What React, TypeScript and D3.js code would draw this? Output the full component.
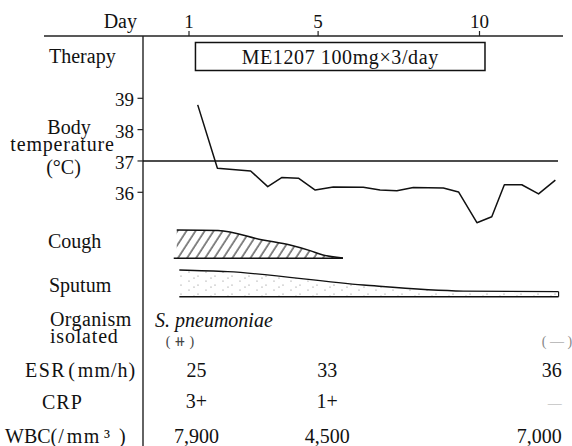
import React, { useEffect, useRef } from 'react';
import * as d3 from 'd3';

// day axis + therapy
const dayTicks = [1, 5, 10];
const therapyRange = [1.2, 10.17];
const therapyLabel = 'ME1207 100mg×3/day';

// body temperature (twice a day)
const tempTicks = [36, 37, 38, 39];
const tempDays = [1.27, 1.88, 2.91, 3.44, 3.87, 4.39, 4.91, 5.47, 6.4, 6.92, 7.44, 7.95, 8.88, 9.35, 9.92, 10.38, 10.77, 11.31, 11.83, 12.35];
const tempValues = [38.79, 36.77, 36.68, 36.18, 36.47, 36.45, 36.07, 36.17, 36.16, 36.07, 36.05, 36.15, 36.14, 36.01, 35.03, 35.22, 36.24, 36.24, 35.95, 36.39];

// symptom severity (0-3)
const coughDays = [0.62, 1.9, 3.29, 4.13, 4.75, 5.15, 5.77];
const coughValues = [3.0, 2.95, 1.94, 1.41, 0.81, 0.35, 0.03];
const sputumDays = [0.7, 2.2, 6.4, 9.5, 12.45];
const sputumValues = [2.83, 2.65, 1.24, 0.6, 0.53];

// lab table
const organismName = 'S. pneumoniae';
const cultureDays = [0.72, 12.4];
const cultureResults = ['( ⧺ )', '( — )'];
const labDays = [1.23, 5.28, 12.55];
const esrValues = ['25', '33', '36'];
const crpValues = ['3+', '1+', '—'];
const wbcValues = ['7,900', '4,500', '7,000'];

const W = 572;
const H = 446;
const FONT = "'Liberation Serif', 'DejaVu Serif', serif";

const App = () => {
  const svgRef = useRef<SVGSVGElement>(null);

  useEffect(() => {
    const svg = d3.select(svgRef.current);
    svg.selectAll('*').remove();

    const x = d3.scaleLinear().domain([1, 10]).range([189, 479.5]);
    const yT = d3.scaleLinear().domain([36, 39]).range([192.3, 98.3]);
    const sev = d3.scaleLinear().domain([0, 3]).range([0, 28.3]);
    const axisX = 143;

    const defs = svg.append('defs');
    const hatch = defs.append('pattern')
      .attr('id', 'hatch')
      .attr('patternUnits', 'userSpaceOnUse')
      .attr('width', 7.6)
      .attr('height', 40)
      .attr('patternTransform', 'rotate(33)');
    hatch.append('line')
      .attr('x1', 1).attr('y1', 0).attr('x2', 1).attr('y2', 40)
      .attr('stroke', '#111').attr('stroke-width', 1);

    const dots = defs.append('pattern')
      .attr('id', 'dots')
      .attr('patternUnits', 'userSpaceOnUse')
      .attr('width', 17)
      .attr('height', 9);
    [[2, 2], [11, 6], [7, 8]].forEach(([cx, cy]) => {
      dots.append('circle').attr('cx', cx).attr('cy', cy).attr('r', 0.6).attr('fill', '#777');
    });

    const text = (s: string, tx: number, ty: number, anchor = 'start', size = 20) =>
      svg.append('text')
        .attr('x', tx)
        .attr('y', ty)
        .attr('text-anchor', anchor)
        .style('font-family', FONT)
        .style('font-size', `${size}px`)
        .attr('fill', '#111')
        .text(s);

    // label with full-width style brackets: [text, dx, letter-spacing]
    const unitLabel = (parts: [string, number, number][], tx: number, ty: number) => {
      const t = svg.append('text')
        .attr('x', tx)
        .attr('y', ty)
        .style('font-family', FONT)
        .style('font-size', '20px')
        .attr('fill', '#111');
      parts.forEach(([s, dx, ls]) =>
        t.append('tspan').attr('dx', dx).attr('letter-spacing', ls).text(s));
      return t;
    };

    // frame
    svg.append('line')
      .attr('x1', 44).attr('x2', 563).attr('y1', 36).attr('y2', 36)
      .attr('stroke', '#222').attr('stroke-width', 1.4);
    svg.append('line')
      .attr('x1', axisX).attr('x2', axisX).attr('y1', 36).attr('y2', H)
      .attr('stroke', '#222').attr('stroke-width', 1.4);

    // day ticks
    text('Day', 137, 28, 'end');
    dayTicks.forEach(d => {
      svg.append('line')
        .attr('x1', x(d)).attr('x2', x(d)).attr('y1', 31).attr('y2', 36)
        .attr('stroke', '#222').attr('stroke-width', 1.2);
      text(String(d), x(d), 28, 'middle', 19);
    });

    // therapy
    text('Therapy', 49, 63);
    svg.append('rect')
      .attr('x', x(therapyRange[0]))
      .attr('y', 42.5)
      .attr('width', x(therapyRange[1]) - x(therapyRange[0]))
      .attr('height', 28)
      .attr('fill', 'none')
      .attr('stroke', '#111')
      .attr('stroke-width', 1.5);
    text(therapyLabel, (x(therapyRange[0]) + x(therapyRange[1])) / 2, 64, 'middle')
      .attr('letter-spacing', 0.6);

    // body temperature
    text('Body', 69, 134, 'middle');
    text('temperature', 62.5, 151, 'middle').attr('letter-spacing', 0.8);
    text('(°C)', 63.5, 174, 'middle');
    tempTicks.forEach(t => {
      svg.append('line')
        .attr('x1', 137.5).attr('x2', axisX).attr('y1', yT(t)).attr('y2', yT(t))
        .attr('stroke', '#222').attr('stroke-width', 1.2);
      text(String(t), 134, yT(t) + 8, 'end', 19);
    });
    svg.append('line')
      .attr('x1', axisX).attr('x2', 558).attr('y1', yT(37)).attr('y2', yT(37))
      .attr('stroke', '#111').attr('stroke-width', 1.5);

    const tempData = tempDays.map((d, i) => [d, tempValues[i]] as [number, number]);
    svg.append('path')
      .datum(tempData)
      .attr('fill', 'none')
      .attr('stroke', '#111')
      .attr('stroke-width', 1.5)
      .attr('stroke-linejoin', 'round')
      .attr('d', d3.line<[number, number]>().x(d => x(d[0])).y(d => yT(d[1])));

    // cough
    const coughBase = 258.3;
    const coughData = coughDays.map((d, i) => [d, coughValues[i]] as [number, number]);
    text('Cough', 48, 248);
    svg.append('path')
      .datum(coughData)
      .attr('fill', 'url(#hatch)')
      .attr('d', d3.area<[number, number]>()
        .curve(d3.curveMonotoneX)
        .x(d => x(d[0]))
        .y0(coughBase)
        .y1(d => coughBase - sev(d[1])));
    svg.append('path')
      .datum(coughData)
      .attr('fill', 'none')
      .attr('stroke', '#111')
      .attr('stroke-width', 1.5)
      .attr('d', d3.line<[number, number]>()
        .curve(d3.curveMonotoneX)
        .x(d => x(d[0]))
        .y(d => coughBase - sev(d[1])));
    svg.append('line')
      .attr('x1', x(coughDays[0]) - 3).attr('x2', x(coughDays[coughDays.length - 1]))
      .attr('y1', coughBase).attr('y2', coughBase)
      .attr('stroke', '#111').attr('stroke-width', 1.5);

    // sputum
    const sputumBase = 296.7;
    const sputumData = sputumDays.map((d, i) => [d, sputumValues[i]] as [number, number]);
    text('Sputum', 49, 292);
    svg.append('path')
      .datum(sputumData)
      .attr('fill', 'url(#dots)')
      .attr('d', d3.area<[number, number]>()
        .curve(d3.curveMonotoneX)
        .x(d => x(d[0]))
        .y0(sputumBase)
        .y1(d => sputumBase - sev(d[1])));
    svg.append('path')
      .datum(sputumData)
      .attr('fill', 'none')
      .attr('stroke', '#111')
      .attr('stroke-width', 1.3)
      .attr('d', d3.line<[number, number]>()
        .curve(d3.curveMonotoneX)
        .x(d => x(d[0]))
        .y(d => sputumBase - sev(d[1])));
    const sEnd = sputumData[sputumData.length - 1];
    svg.append('line')
      .attr('x1', x(sEnd[0])).attr('x2', x(sEnd[0]))
      .attr('y1', sputumBase - sev(sEnd[1])).attr('y2', sputumBase)
      .attr('stroke', '#111').attr('stroke-width', 1.2);
    svg.append('line')
      .attr('x1', x(sputumDays[0])).attr('x2', x(sEnd[0]))
      .attr('y1', sputumBase).attr('y2', sputumBase)
      .attr('stroke', '#111').attr('stroke-width', 1.5);

    // organism
    text('Organism', 50, 326).attr('letter-spacing', 0.4);
    text('isolated', 50, 343).attr('letter-spacing', 0.8);
    text(organismName, 155, 327).attr('font-style', 'italic');
    cultureResults.forEach((r, i) => {
      text(r, x(cultureDays[i]), 346, 'middle', 14)
        .attr('fill', i === 0 ? '#444' : '#888');
    });

    // lab rows
    const anchors = ['middle', 'middle', 'end'];
    const rows: [string, string[], number][] = [
      ['ESR', esrValues, 377],
      ['CRP', crpValues, 408],
      ['WBC', wbcValues, 443],
    ];
    unitLabel([['ESR', 0, 1.5], ['(', 2, 0], ['mm', 3, 1], ['/', 0, 0], ['h', 1, 0], [')', 1, 0]], 25, 377);
    text('CRP', 42, 409).attr('letter-spacing', 1);
    unitLabel([['WBC', 0, 0], ['(', 0, 0], ['/', 1, 0], ['mm', 3, 1.5], ['³', 3, 0], [')', 9, 0]], 5, 443);
    rows.forEach(([name, vals, yy]) => {
      vals.forEach((v, i) => {
        const t = text(v, x(labDays[i]), yy, anchors[i]);
        if (name === 'CRP' && v === '—') t.attr('fill', '#aaa').style('font-size', '14px');
      });
    });
  }, []);

  return (
    <svg
      ref={svgRef}
      width={W}
      height={H}
      style={{ position: 'absolute', left: 0, top: 0, background: '#fff' }}
    />
  );
};

export default App;
